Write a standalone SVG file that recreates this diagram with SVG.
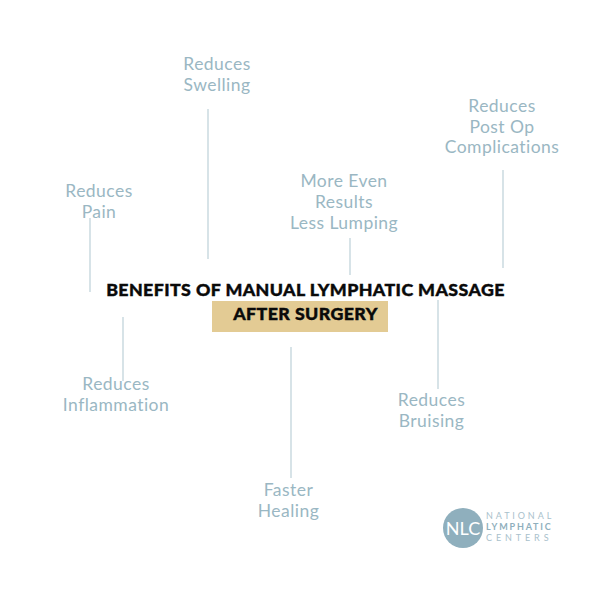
<svg xmlns="http://www.w3.org/2000/svg" width="600" height="600" viewBox="0 0 600 600">
<style>
.l{font-family:"Lato","Open Sans",sans-serif;font-size:17.500px;fill:#9ab7c3;text-anchor:middle;letter-spacing:.45px}
.c{stroke:#bdd0d8;stroke-width:1.2;fill:none}
.t{font-family:"Lato","Liberation Sans",sans-serif;font-weight:900;fill:#0a0a0a;text-anchor:middle;stroke:#0a0a0a;stroke-width:.4}
.s{font-family:"Lato",sans-serif;font-size:9px;fill:#a9c1cc;letter-spacing:1.8px}
</style>
<rect width="600" height="600" fill="#fff"/>
<g id="connectors">
<path class="c" d="M208 109V259"/>
<path class="c" d="M503 170V268"/>
<path class="c" d="M350 238V275"/>
<path class="c" d="M90 218V292"/>
<path class="c" d="M123 317V381"/>
<path class="c" d="M438 300V389"/>
<path class="c" d="M291 347V478"/>
</g>
<g id="title"><text class="t" x="305.500" y="295.500" font-size="17.800" letter-spacing=".4">BENEFITS OF MANUAL LYMPHATIC MASSAGE</text></g>
<g id="subtitle"><rect x="212" y="301" width="176" height="31" fill="#e3cb94"/><text class="t" x="305.500" y="319.500" font-size="17.800" letter-spacing=".4">AFTER SURGERY</text></g>
<g id="swelling"><text class="l" x="217" y="70">Reduces</text><text class="l" x="217" y="91">Swelling</text></g>
<g id="postop"><text class="l" x="502" y="112">Reduces</text><text class="l" x="502" y="133">Post Op</text><text class="l" x="502" y="153">Complications</text></g>
<g id="even"><text class="l" x="344" y="187">More Even</text><text class="l" x="344" y="208">Results</text><text class="l" x="344" y="229">Less Lumping</text></g>
<g id="pain"><text class="l" x="99" y="197">Reduces</text><text class="l" x="99" y="218">Pain</text></g>
<g id="inflammation"><text class="l" x="116" y="390">Reduces</text><text class="l" x="116" y="411">Inflammation</text></g>
<g id="bruising"><text class="l" x="431.500" y="406">Reduces</text><text class="l" x="431.500" y="427">Bruising</text></g>
<g id="healing"><text class="l" x="288.500" y="496">Faster</text><text class="l" x="288.500" y="517">Healing</text></g>
<g id="logo"><circle cx="463" cy="528" r="20" fill="#8fafbd"/><text x="463" y="535" font-family="Lato,sans-serif" font-size="18" fill="#fff" text-anchor="middle">NLC</text>
<text class="s" x="486" y="519" style="letter-spacing:2.900px">NATIONAL</text><text class="s" x="486" y="530" font-weight="700" style="fill:#8fafbd">LYMPHATIC</text><text class="s" x="486" y="541" style="letter-spacing:3.900px">CENTERS</text></g>
</svg>
